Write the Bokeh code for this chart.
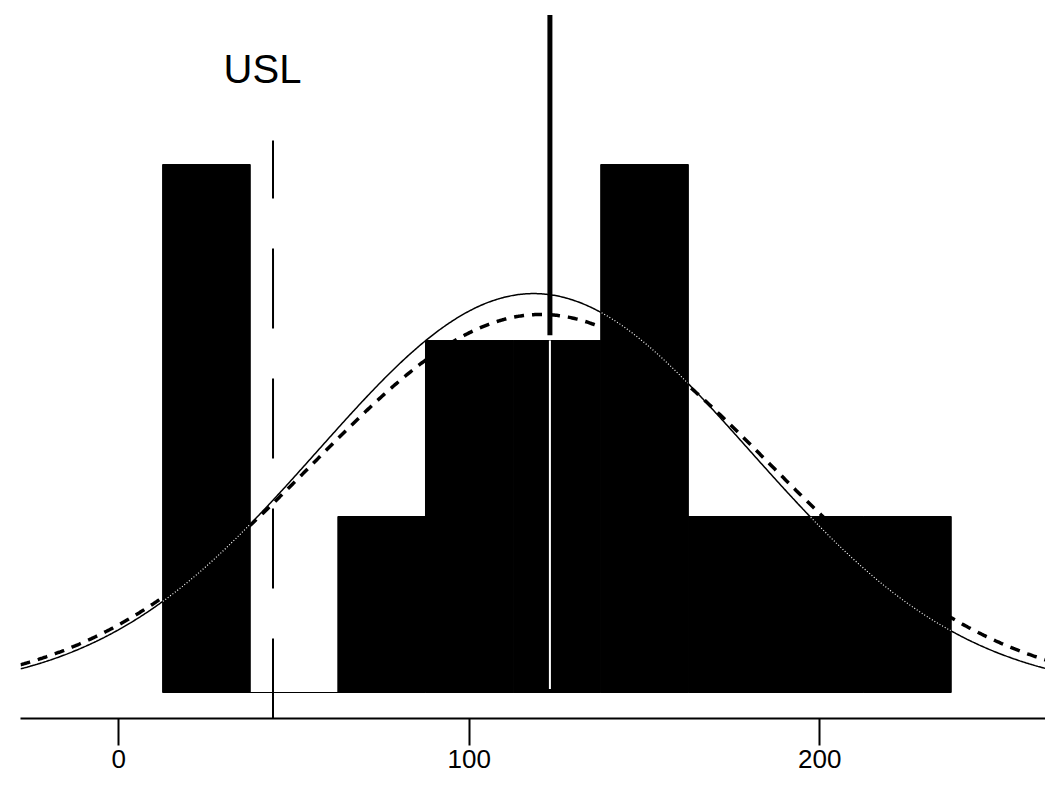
import numpy as np
from bokeh.plotting import figure
from bokeh.models import FixedTicker, Range1d
from bokeh.core.properties import value
from bokeh.embed import file_html
from bokeh.resources import INLINE

# ---- data ----
bin_edges = [12.5, 37.5, 62.5, 87.5, 112.5, 137.5, 162.5, 187.5, 212.5, 237.5]
bin_counts = [3, 0, 1, 2, 2, 3, 1, 1, 1]
tick_values = [0, 100, 200]
tick_labels = ["0", "100", "200"]
usl_value = 44
usl_label = "USL"
target_value = 123
# fitted normal curves (mean, sigma) scaled to counts
fit_overall = {"mean": 118.4, "sigma": 61.6}
fit_within = {"mean": 120.5, "sigma": 65.0}

n_total = sum(bin_counts)
bin_width = bin_edges[1] - bin_edges[0]

x_start, x_end = -28.05, 264.4
y_start, y_end = -0.1477, 3.932

p = figure(width=1045, height=779,
           x_range=Range1d(x_start, x_end), y_range=Range1d(y_start, y_end),
           output_backend="svg", toolbar_location=None,
           y_axis_location=None,
           min_border_left=20, min_border_right=0, min_border_top=0, min_border_bottom=61)
p.outline_line_color = None
p.xgrid.visible = False
p.ygrid.visible = False
p.background_fill_color = "white"
p.border_fill_color = "white"

# histogram bars
p.quad(left=bin_edges[:-1], right=bin_edges[1:], top=bin_counts, bottom=0,
       fill_color="black", line_color="black", line_width=1)

# normal curves
xs = np.linspace(x_start, x_end, 800)

def curve(fit):
    return n_total * bin_width / (fit["sigma"] * np.sqrt(2 * np.pi)) * \
        np.exp(-0.5 * ((xs - fit["mean"]) / fit["sigma"]) ** 2)

y_overall = curve(fit_overall)
y_within = curve(fit_within)

p.line(xs, y_within, line_color="black", line_width=3.5, line_dash="10 8")
p.line(xs, y_overall, line_color="black", line_width=1.5)

# part of the solid curve inside the black bars shows up white
edges = np.array(bin_edges)
counts = np.array(bin_counts, dtype=float)
idx = np.searchsorted(edges, xs) - 1
inside = (idx >= 0) & (idx < len(counts))
bar_h = np.where(inside, counts[np.clip(idx, 0, len(counts) - 1)], 0.0)
y_white = np.where(inside & (y_overall < bar_h), y_overall, np.nan)
p.line(xs, y_white, line_color="white", line_width=1.2, line_dash="1 2")

# USL dashed line
p.segment(x0=[usl_value], y0=[y_start], x1=[usl_value], y1=[3.136],
          line_color="black", line_width=2, line_dash="80 50")
p.text(x=[usl_value - 3], y=[3.54], text=[usl_label],
       text_font=value("Liberation Sans"), text_font_size="40px",
       text_align="center", text_baseline="middle", text_color="black")

# target line: black above the bar, white inside it
t_idx = int(np.searchsorted(edges, target_value) - 1)
t_bar = bin_counts[t_idx]
p.segment(x0=[target_value], y0=[t_bar + 0.03], x1=[target_value], y1=[3.85],
          line_color="black", line_width=5)
p.segment(x0=[target_value], y0=[0.02], x1=[target_value], y1=[t_bar],
          line_color="white", line_width=2)

# x axis
ax = p.xaxis[0]
ax.ticker = FixedTicker(ticks=tick_values)
ax.major_label_overrides = {v: s for v, s in zip(tick_values, tick_labels)}
ax.axis_line_width = 2
ax.axis_line_color = "black"
ax.major_tick_line_width = 2
ax.major_tick_line_color = "black"
ax.major_tick_in = 0
ax.major_tick_out = 27
ax.minor_tick_line_color = None
ax.major_label_text_font = "Liberation Sans"
ax.major_label_text_font_size = "26px"
ax.major_label_text_color = "black"
ax.major_label_standoff = 4

open("out.html", "w").write(file_html(p, INLINE))
